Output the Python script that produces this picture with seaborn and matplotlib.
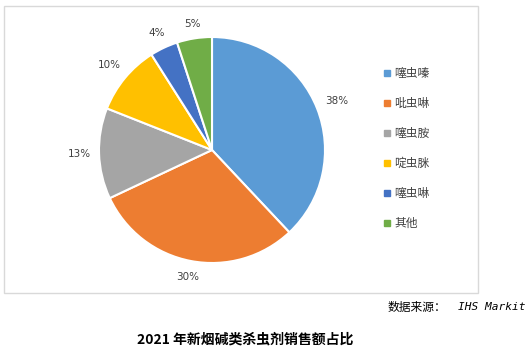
import matplotlib
matplotlib.use("Agg")
import matplotlib.pyplot as plt
import seaborn as sns
import numpy as np
from matplotlib.patches import Rectangle

categories = ["噻虫嗪", "吡虫啉", "噻虫胺", "啶虫脒", "噻虫啉", "其他"]
values = [38, 30, 13, 10, 4, 5]
pct_labels = ["38%", "30%", "13%", "10%", "4%", "5%"]
colors = ["#5B9BD5", "#ED7D31", "#A5A5A5", "#FFC000", "#4472C4", "#70AD47"]

sns.set_theme(style="white")
plt.rcParams['font.family'] = ['Noto Sans CJK SC', 'DejaVu Sans']

W, H = 530, 355
fig = plt.figure(figsize=(W / 100, H / 100), dpi=100)
fig.patch.set_facecolor("white")

def fx(px):
    return px / W

def fy(py):
    return 1 - py / H

# outer frame
fig.patches.append(Rectangle((fx(4), fy(293)), fx(478) - fx(4), fy(6) - fy(293),
                             transform=fig.transFigure, fill=False,
                             edgecolor="#D9D9D9", linewidth=1.0))

cx, cy, r = 212, 150, 113
ax = fig.add_axes([fx(cx - r), fy(cy + r), 2 * r / W, 2 * r / H])
wedges, _ = ax.pie(values, colors=colors, startangle=90, counterclock=False,
                   wedgeprops=dict(edgecolor="white", linewidth=1.5))
ax.set_aspect("equal")
total = sum(values)
cum = 0
for v, lab in zip(values, pct_labels):
    mid = np.radians(90 - 360 * (cum + v / 2) / total)
    cum += v
    hw = (3.5 * len(lab)) / r
    hh = 5 / r
    d = 1.08 + hw * abs(np.cos(mid)) + hh * abs(np.sin(mid))
    ax.text(d * np.cos(mid), d * np.sin(mid), lab,
            ha="center", va="center", fontsize=7.5, color="#404040",
            family=["DejaVu Sans"])
ax.set_xlim(-1, 1)
ax.set_ylim(-1, 1)
ax.axis("off")

# legend
ys = [73, 103, 133, 163, 193, 223]
for lab, c, y in zip(categories, colors, ys):
    fig.patches.append(Rectangle((fx(384), fy(y + 3)), 6 / W, 6 / H,
                                 transform=fig.transFigure, color=c))
    fig.text(fx(394), fy(y), lab, ha="left", va="center", fontsize=8.5,
             color="#404040")

# source
fig.text(fx(388), fy(307), "数据来源：", ha="left", va="center", fontsize=8.5,
         color="black")
fig.text(fx(525), fy(307), "IHS Markit", ha="right", va="center", fontsize=8,
         color="black", family=["DejaVu Sans Mono"], style="italic")

# title
fig.text(fx(245), fy(340), "2021 年新烟碱类杀虫剂销售额占比", ha="center", va="center",
         fontsize=10, fontweight="bold", color="black")

fig.savefig("out.png", dpi=100, facecolor="white")
